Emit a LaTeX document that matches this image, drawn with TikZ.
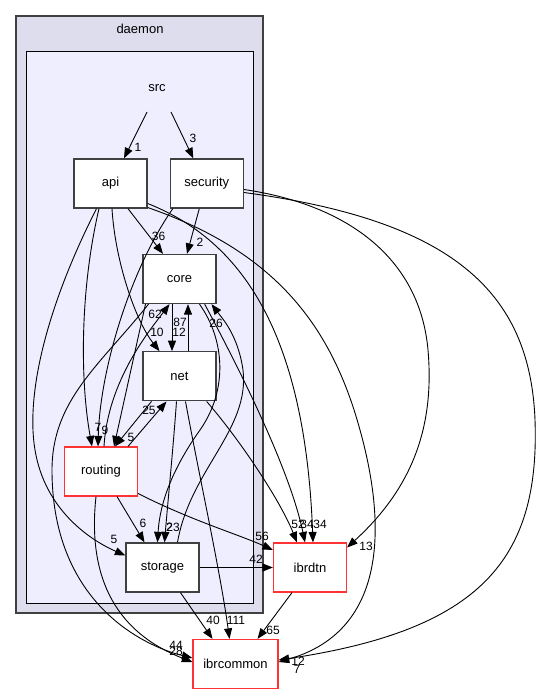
\documentclass[tikz,border=0pt]{standalone}
\usepackage{fontspec}
\setmainfont{Liberation Sans}
\usepackage{xcolor}
\usetikzlibrary{arrows.meta,calc,positioning}
\definecolor{daemonfill}{HTML}{DDDDEE}
\definecolor{srcfill}{HTML}{EEEEFF}
\definecolor{boxgrey}{HTML}{404040}
\definecolor{extred}{HTML}{FF3333}
\tikzset{%
	dirbox/.style  = {draw=boxgrey, line width=1.3pt, fill=white, rectangle, minimum width=73pt, minimum height=49pt, font=\fontsize{13}{15}\selectfont}, % Directory
	extbox/.style  = {dirbox, draw=extred, line width=1.2pt}, % Outside directory
	cluster/.style = {draw=boxgrey, line width=1.3pt},
	lbl/.style     = {inner sep=0pt, font=\fontsize{12}{14}\selectfont}, % Edge count
	dep/.style     = {line width=0.9pt, -{Triangle[length=10.5pt,width=8pt]}},
}

\begin{document}
\begin{tikzpicture}[x=1pt, y=-1pt]
	\useasboundingbox (0,0) rectangle (541,693);
	% clusters
	\draw[cluster, fill=daemonfill] (16,16) rectangle (263,613);
	\draw[black, line width=1pt, fill=srcfill] (26,52) rectangle (253,603);
	\node[font=\fontsize{13}{15}\selectfont] (daemon) at (140,29) {daemon};
	\node[font=\fontsize{13}{15}\selectfont] (src) at (157,88) {src};
	% directories
	\node[dirbox] (api) at (110.5,183.5) {api};
	\node[dirbox, right=22pt of api] (security) {security};
	\node[dirbox] (core) at (179.5,279) {core};
	\node[dirbox, below=47pt of core] (net) {net};
	\node[extbox] (routing) at (101,471.5) {routing};
	\node[dirbox] (storage) at (162.5,567.5) {storage};
	\node[extbox] (ibrdtn) at (310,567.5) {ibrdtn};
	\node[extbox, minimum width=85pt] (ibrcommon) at (235.5,664) {ibrcommon};
	% dependencies
	\draw[dep] ($(src)+(-10,24)$) -- ($(api.north)+(13.5,0)$) node[lbl] at (138,147) {1};
	\draw[dep] ($(src)+(14,24)$) -- ($(security.north)+(-13.5,0)$) node[lbl] at (193,138) {3};
	\draw[dep] ($(api.south)+(17.5,0)$) -- ($(core.north)+(-16.5,0)$) node[lbl] at (158.5,236) {36};
	\draw[dep] ($(security.south)+(-7.5,0)$) -- ($(core.north)+(7.5,0)$) node[lbl] at (200,242) {2};
	\draw[dep] ($(api.south)+(1.5,0)$) .. controls (115,260) and (135,320) .. ($(net.north)+(-20,0)$) node[lbl] at (157,332) {10};
	\draw[dep] ($(api.south)+(-11.5,0)$) .. controls (80,290) and (80,380) .. ($(routing.north)+(-9,0)$) node[lbl] at (98,427) {7};
	\draw[dep] ($(security.south)+(-34,0)$) .. controls (130,270) and (100,370) .. ($(routing.north)+(-3,0)$) node[lbl] at (105,430) {9};
	\draw[dep] ($(api.south)+(-14,0)$) .. controls (50,300) and (25,390) .. (35,450) .. controls (45,510) and (90,540) .. ($(storage.west)+(0,-12)$) node[lbl] at (114,539) {5};
	\draw[dep] ($(routing.north)+(3,0)$) .. controls (108,380) and (150,330) .. ($(core.south)+(-10,0)$) node[lbl] at (155,314) {62};
	\draw[dep] ($(core.south)+(-34,0)$) -- ($(routing.north)+(13,0)$);
	\draw[dep] ($(net.south)+(-28,0)$) -- ($(routing.north)+(14,0)$) node[lbl] at (131,437) {5};
	\draw[dep] ($(routing.north)+(27,0)$) -- ($(net.south)+(-13,0)$) node[lbl] at (149,410) {25};
	\draw[dep] ($(core.south)+(-7.5,0)$) -- ($(net.north)+(-7.5,0)$) node[lbl] at (179,332) {12};
	\draw[dep] ($(net.north)+(8.5,0)$) -- ($(core.south)+(8.5,0)$) node[lbl] at (180,322) {87};
	\draw[dep] ($(core.south)+(-31,0)$) .. controls (100,365) and (52,400) .. (52,470) .. controls (52,600) and (140,645) .. ($(ibrcommon.west)+(0,-6)$) node[lbl] at (176,645) {44};
	\draw[dep] ($(routing.south)+(-5,0)$) .. controls (88,570) and (110,630) .. ($(ibrcommon.west)+(0,-2)$) node[lbl] at (176,651) {28};
	\draw[dep] ($(core.south)+(20,0)$) .. controls (225,340) and (228,390) .. (200,430) .. controls (175,465) and (160,500) .. ($(storage.north)+(-5,0)$) node[lbl] at (173,527) {23};
	\draw[dep] ($(net.south)+(-3,0)$) .. controls (173,450) and (168,500) .. ($(storage.north)+(2,0)$) node[lbl] at (169.5,527) {2};
	\draw[dep] ($(storage.north)+(15,0)$) .. controls (190,470) and (250,430) .. (243,370) .. controls (238,335) and (222,318) .. ($(core.south)+(32,0)$) node[lbl] at (216,323) {26};
	\draw[dep] ($(routing.south)+(16,0)$) -- ($(storage.north)+(-18,0)$) node[lbl] at (143,523) {6};
	\draw[dep] ($(net.south)+(6,0)$) .. controls (200,480) and (220,570) .. ($(ibrcommon.north)+(-6,0)$) node[lbl] at (236,620) {111};
	\draw[dep] ($(storage.south)+(18,0)$) -- ($(ibrcommon.north)+(-23,0)$) node[lbl] at (213,620) {40};
	\draw[dep] ($(ibrdtn.south)+(-18,0)$) -- ($(ibrcommon.north)+(22,0)$) node[lbl] at (273,630) {65};
	\draw[dep] (storage.east) -- (ibrdtn.west) node[lbl] at (256,559) {42};
	\draw[dep] ($(routing.east)+(0,22)$) .. controls (190,520) and (240,535) .. ($(ibrdtn.west)+(0,-17.5)$) node[lbl] at (262,536) {56};
	\draw[dep] ($(net.south east)+(-10,0)$) .. controls (240,440) and (280,500) .. ($(ibrdtn.north)+(-13,0)$) node[lbl] at (298,524) {52};
	\draw[dep] ($(core.south east)+(-12,0)$) .. controls (240,370) and (290,470) .. ($(ibrdtn.north)+(-5,0)$) node[lbl] at (307,524) {34};
	\draw[dep] ($(api.east)+(0,20)$) .. controls (240,240) and (305,330) .. ($(ibrdtn.north)+(3,0)$) node[lbl] at (320,524) {34};
	\draw[dep] ($(api.east)+(0,24)$) .. controls (270,250) and (330,320) .. (360,430) .. controls (385,520) and (390,630) .. ($(ibrcommon.east)+(0,-2)$) node[lbl] at (297,669) {7};
	\draw[dep] ($(security.east)+(0,6)$) .. controls (350,205) and (420,260) .. (428,350) .. controls (435,430) and (410,490) .. ($(ibrdtn.east)+(0,-20)$) node[lbl] at (366,546) {13};
	\draw[dep] ($(security.east)+(0,9)$) .. controls (450,220) and (530,290) .. (535,420) .. controls (540,560) and (480,630) .. ($(ibrcommon.east)+(0,-4)$) node[lbl] at (298,661) {12};
\end{tikzpicture}
\end{document}
